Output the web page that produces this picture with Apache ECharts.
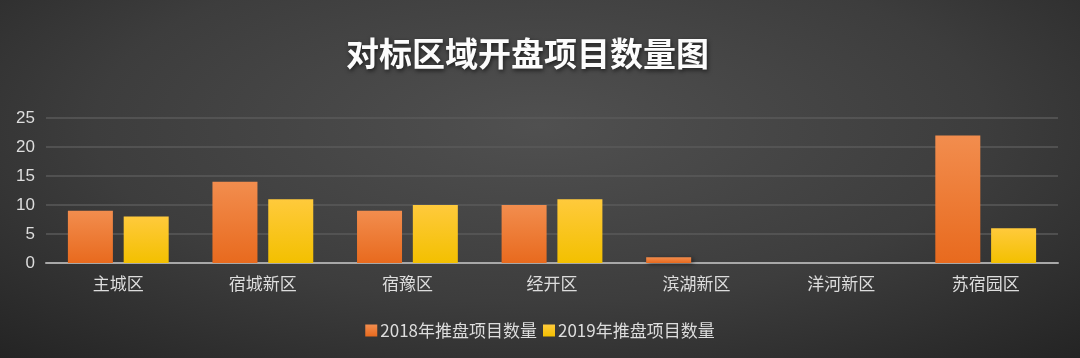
<!DOCTYPE html>
<html><head><meta charset="utf-8">
<script src="https://cdn.jsdelivr.net/npm/echarts@6/dist/echarts.min.js"></script>
<style>html,body{margin:0;padding:0;}#c{width:1080px;height:358px;background:radial-gradient(ellipse 75% 90% at 50% 35%, #505050 0%, #3d3d3d 55%, #232323 100%);}</style>
</head><body><div id="c"></div>
<script>
const categories = ['主城区','宿城新区','宿豫区','经开区','滨湖新区','洋河新区','苏宿园区'];
const seriesNames = ['2018年推盘项目数量','2019年推盘项目数量'];
const values2018 = [9,14,9,10,1,0,22];
const values2019 = [8,11,10,11,0,0,6];
const yTicks = [0,5,10,15,20,25];

const chart = echarts.init(document.getElementById('c'));
const font = '"Noto Sans CJK SC", "Liberation Sans", sans-serif';
function grad(top, bottom){return new echarts.graphic.LinearGradient(0,0,0,1,[{offset:0,color:top},{offset:1,color:bottom}]);}
chart.setOption({
  backgroundColor: 'transparent',
  title: {
    text: '对标区域开盘项目数量图',
    left: 341, top: 32,
    textStyle: {color:'#fcfcfc', fontSize:33, fontWeight:'bold', fontFamily:font,
      textShadowColor:'rgba(0,0,0,0.6)', textShadowBlur:4, textShadowOffsetX:1, textShadowOffsetY:2}
  },
  legend: {
    bottom: 14, left: 'center', itemWidth: 12, itemHeight: 12, itemGap: 6,
    icon: 'rect',
    textStyle: {color:'#dddddd', fontSize:17, fontFamily:font, padding:[0,0,0,-2]},
    data: seriesNames
  },
  grid: {left:46, right:22, top:118, bottom:95, containLabel:false},
  xAxis: {
    type:'category', data: categories,
    axisLine:{lineStyle:{color:'#a8a8a8', width:2}},
    axisTick:{show:false},
    axisLabel:{color:'#dddddd', fontSize:17, fontFamily:font, margin:12}
  },
  yAxis: {
    type:'value', min: yTicks[0], max: yTicks[yTicks.length-1], interval: 5,
    axisLine:{show:false}, axisTick:{show:false},
    axisLabel:{color:'#dddddd', fontSize:17, fontFamily:'"Liberation Sans", sans-serif', margin:11},
    splitLine:{lineStyle:{color:'#5a5a5a', width:1.5}}
  },
  series: [
    {name:seriesNames[0], type:'bar', data: values2018, barWidth:45, barGap:'24%',
     itemStyle:{color:grad('#f28d4e','#e86a1e'), shadowColor:'rgba(0,0,0,0.5)', shadowBlur:4, shadowOffsetX:2, shadowOffsetY:1}},
    {name:seriesNames[1], type:'bar', data: values2019, barWidth:45,
     itemStyle:{color:grad('#ffca3c','#f3c000'), shadowColor:'rgba(0,0,0,0.5)', shadowBlur:4, shadowOffsetX:2, shadowOffsetY:1}}
  ],
  color:['#ee7a2c','#fcc30e']
});
</script></body></html>
